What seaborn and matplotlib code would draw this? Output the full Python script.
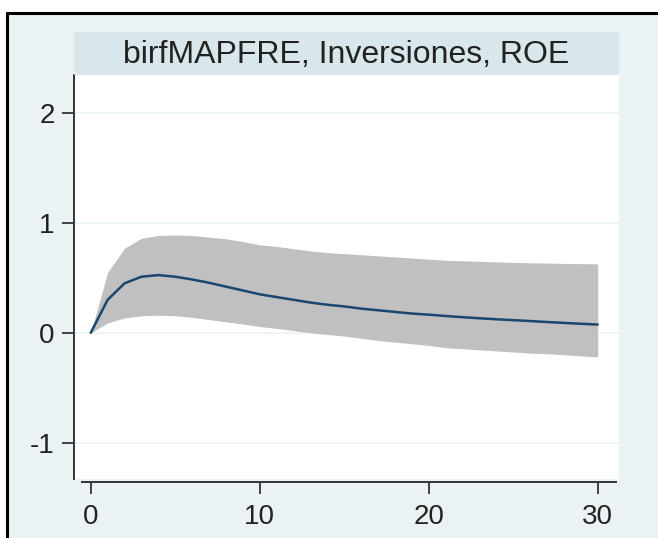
import matplotlib
matplotlib.use("Agg")
import matplotlib.pyplot as plt
from matplotlib.patches import Rectangle
import numpy as np
import pandas as pd
import seaborn as sns

# Impulse-response: step, point estimate and confidence band
steps = list(range(31))
irf = [0.0, 0.30, 0.45, 0.51, 0.525, 0.51, 0.485, 0.455, 0.42, 0.385, 0.35,
       0.325, 0.30, 0.275, 0.255, 0.24, 0.22, 0.205, 0.19, 0.175, 0.165,
       0.153, 0.142, 0.132, 0.123, 0.115, 0.107, 0.098, 0.09, 0.082, 0.075]
upper = [0.0, 0.55, 0.77, 0.86, 0.885, 0.89, 0.885, 0.87, 0.855, 0.83, 0.80,
         0.785, 0.765, 0.745, 0.73, 0.72, 0.71, 0.70, 0.69, 0.68, 0.67,
         0.66, 0.655, 0.65, 0.645, 0.64, 0.637, 0.634, 0.631, 0.629, 0.627]
lower = [0.0, 0.09, 0.135, 0.155, 0.16, 0.155, 0.14, 0.12, 0.10, 0.08, 0.057,
         0.04, 0.02, 0.0, -0.015, -0.03, -0.05, -0.07, -0.085, -0.10, -0.115,
         -0.135, -0.145, -0.155, -0.165, -0.175, -0.185, -0.19, -0.20, -0.21, -0.22]
panel_title = "birfMAPFRE, Inversiones, ROE"
x_ticks = [0, 10, 20, 30]
y_ticks = [-1, 0, 1, 2]

df = pd.DataFrame({"step": steps, "irf": irf, "lo": lower, "hi": upper})

sns.set_style("white")
plt.rcParams["font.family"] = ["Liberation Sans", "DejaVu Sans"]
plt.rcParams["axes.unicode_minus"] = False

BG = "#eaf2f3"
STRIP = "#d9e6eb"
LINE = "#1a476f"
BAND = "#c0c0c0"
AXIS = "#333333"

fig = plt.figure(figsize=(6.58, 5.38), dpi=100, facecolor="white")

# Outer graph region with a dark frame on the top and left edges
W, H = 658.0, 538.0
fig.patches.append(Rectangle((7 / W, 0), 1 - 7 / W, 1 - 13 / H,
                             transform=fig.transFigure, facecolor=BG,
                             edgecolor="none", zorder=-10))
fig.add_artist(plt.Line2D([7 / W, 7 / W], [0, 1 - 13 / H], color="black",
                          lw=2.2, transform=fig.transFigure, zorder=5))
fig.add_artist(plt.Line2D([7 / W, 1], [1 - 13 / H, 1 - 13 / H], color="black",
                          lw=2.2, transform=fig.transFigure, zorder=5))

ax_left, ax_right = 74 / W, 619 / W
ax_bottom, ax_top = 1 - 479 / H, 1 - 75 / H
ax = fig.add_axes([ax_left, ax_bottom, ax_right - ax_left, ax_top - ax_bottom])
ax.set_facecolor("white")

# Title strip above the plot region
fig.patches.append(Rectangle((ax_left, ax_top), ax_right - ax_left, 43 / H,
                             transform=fig.transFigure, facecolor=STRIP,
                             edgecolor="none", zorder=1))
fig.text((ax_left + ax_right) / 2, 1 - 55 / H, panel_title, ha="center",
         va="center", fontsize=23, color="#222222", zorder=6)

ax.fill_between(df["step"], df["lo"], df["hi"], color=BAND, lw=0, zorder=2)
sns.lineplot(data=df, x="step", y="irf", ax=ax, color=LINE, lw=1.8, zorder=3)

ax.set_xlim(-0.99, 31.26)
ax.set_ylim(-1.33, 2.345)
ax.set_xticks(x_ticks)
ax.set_yticks(y_ticks)
ax.set_xlabel("")
ax.set_ylabel("")

ax.yaxis.grid(True, color=BG, lw=1.2, zorder=1)
ax.xaxis.grid(False)
ax.set_axisbelow(True)

for s in ("top", "right"):
    ax.spines[s].set_visible(False)
ax.spines["left"].set_color(AXIS)
ax.spines["left"].set_linewidth(1.4)
ax.spines["bottom"].set_color(AXIS)
ax.spines["bottom"].set_linewidth(1.4)
ax.spines["bottom"].set_position(("outward", 2.5))
ax.spines["bottom"].set_bounds(-0.5, 31.1)

ax.tick_params(axis="both", direction="out", length=8.5, width=1.3,
               color=AXIS, labelsize=20, labelcolor="#222222")
ax.tick_params(axis="y", pad=5.5)
ax.tick_params(axis="x", pad=7)
ax.tick_params(bottom=True, left=True)

fig.savefig("out.png", dpi=100, facecolor="white")
